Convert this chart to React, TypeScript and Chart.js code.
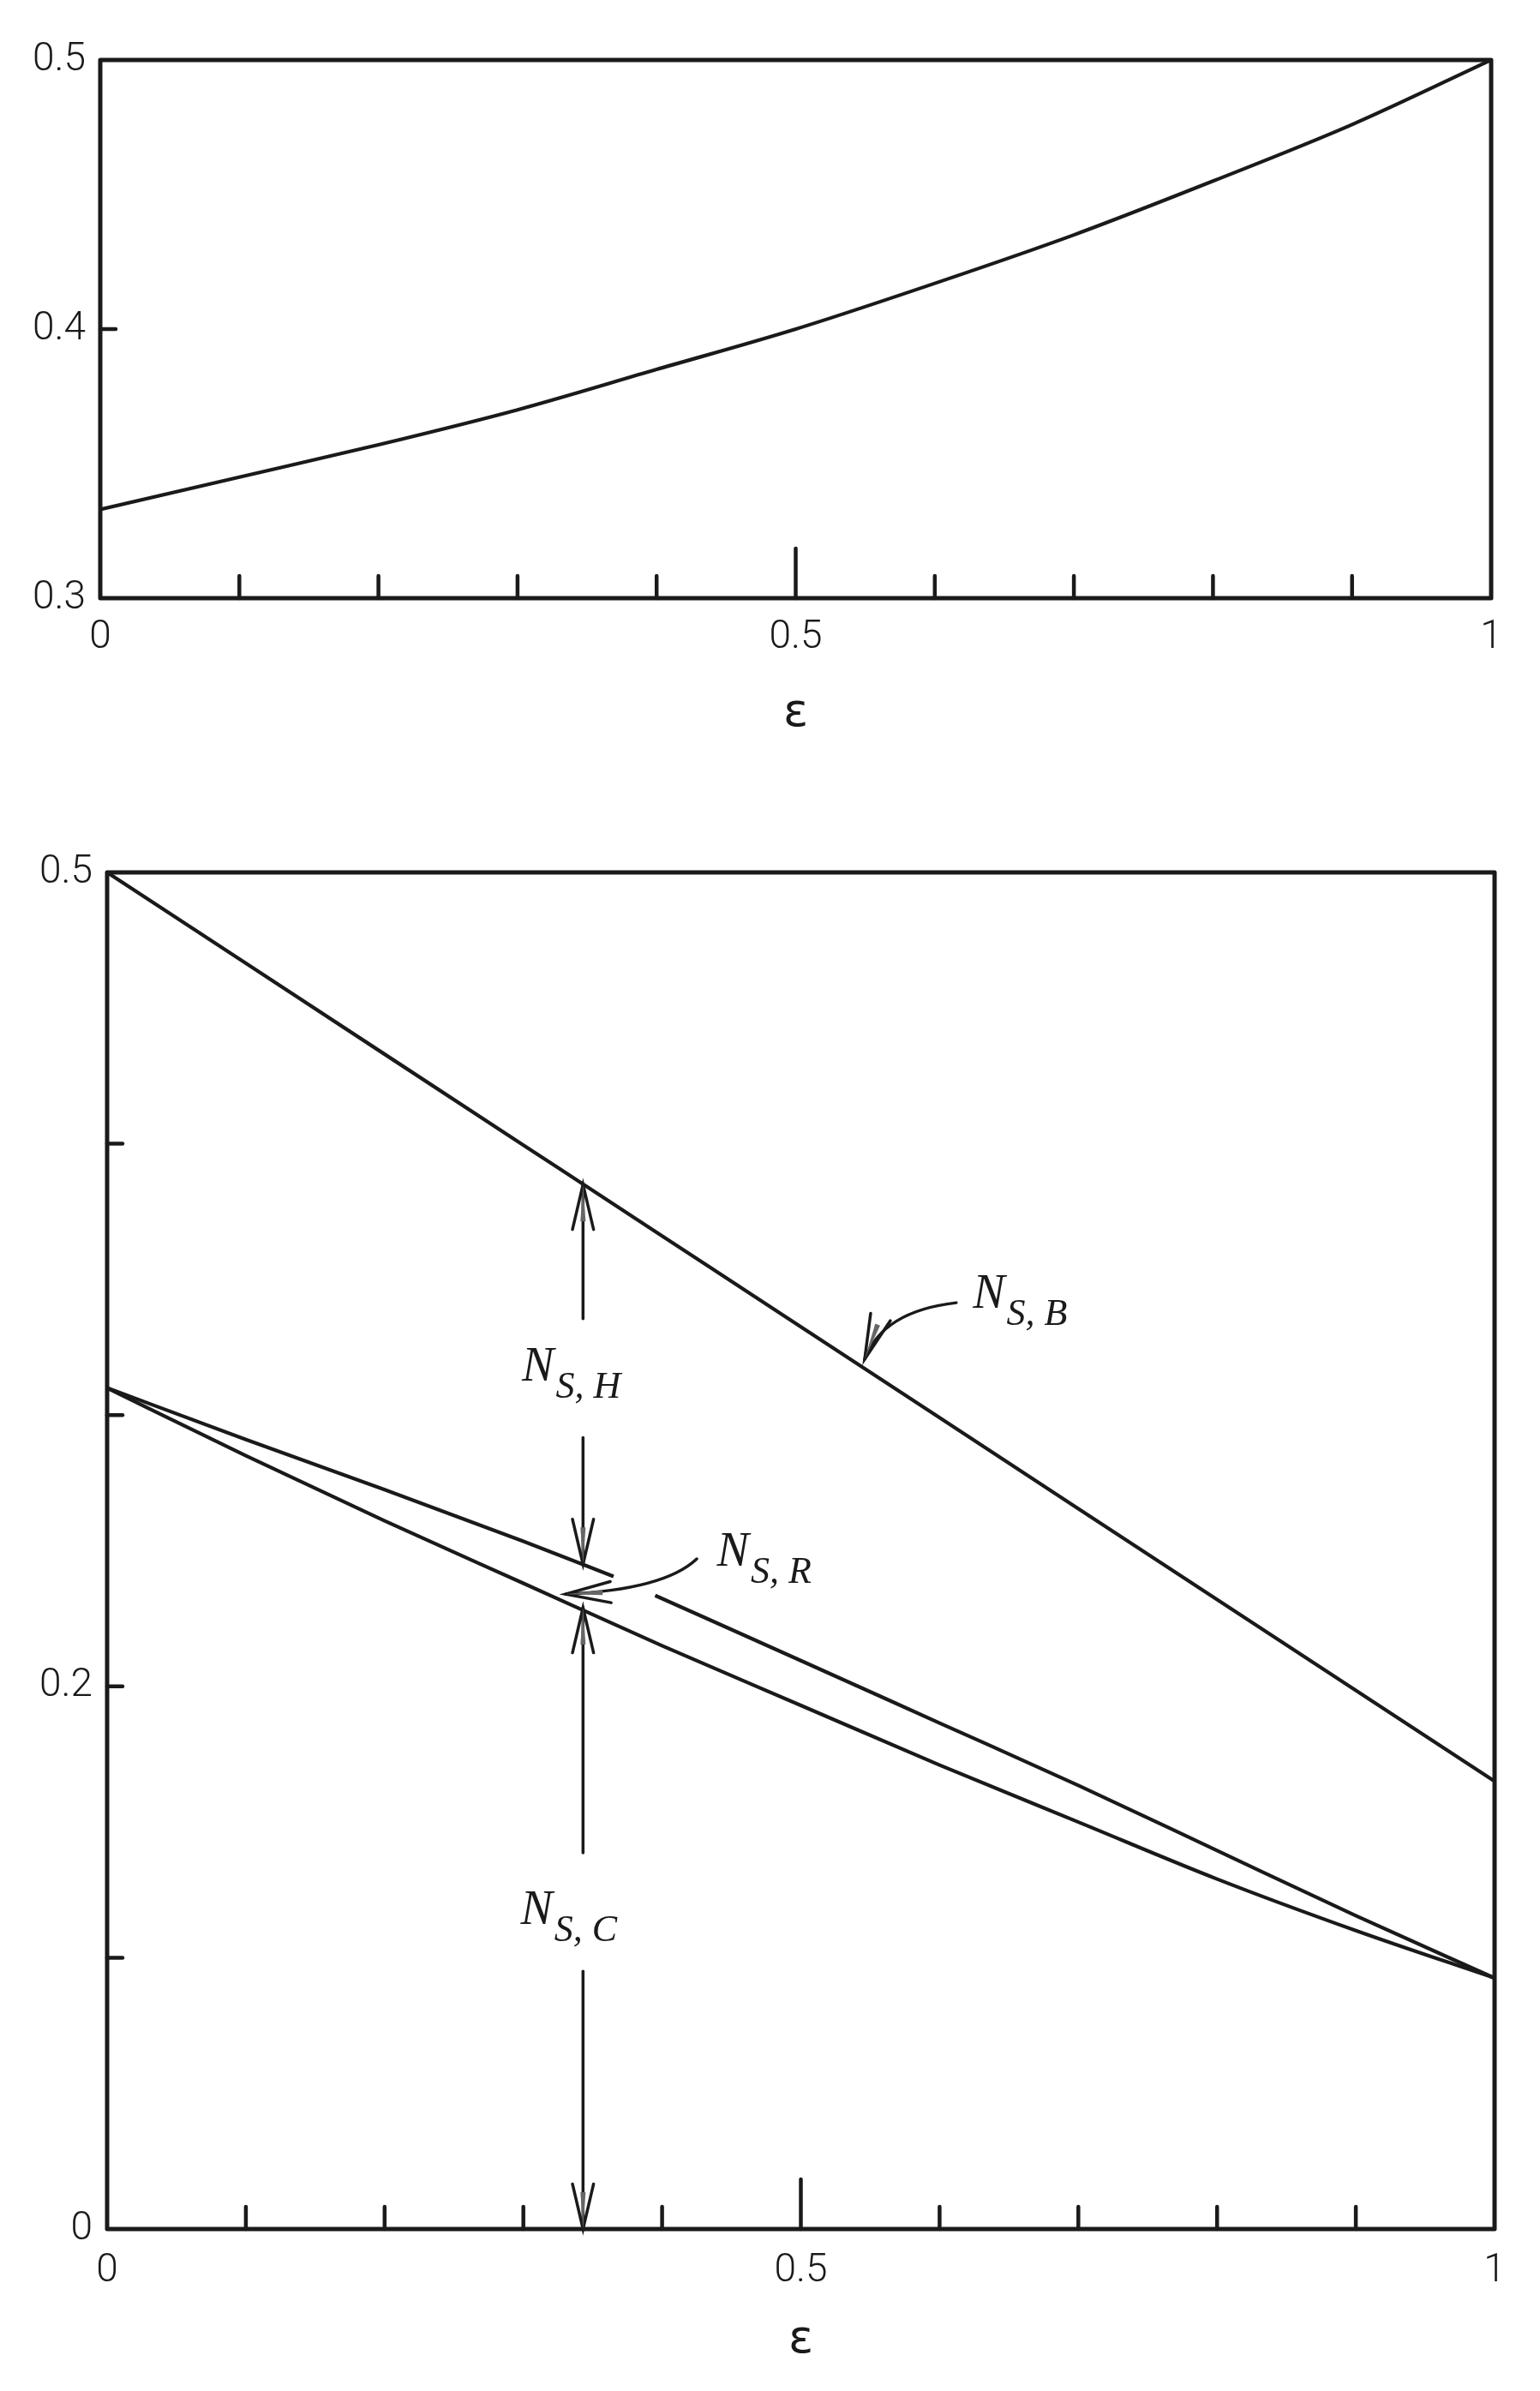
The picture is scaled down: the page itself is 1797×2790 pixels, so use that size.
import React, { useEffect, useRef } from 'react';
import { Chart, registerables } from 'chart.js';

Chart.register(...registerables);

// ---------- data ----------
const EPS = [0, 0.1, 0.2, 0.3, 0.4, 0.5, 0.6, 0.7, 0.8, 0.9, 1];

// upper panel
const TOP_CURVE = [0.333, 0.345, 0.357, 0.370, 0.385, 0.400, 0.417, 0.435, 0.455, 0.476, 0.500];
const TOP_Y_TICKS = [0.3, 0.4, 0.5];
const TOP_Y_LABELS = [0.3, 0.4, 0.5];

// lower panel
const NSB = [0.500, 0.4665, 0.433, 0.3995, 0.366, 0.3325, 0.299, 0.2655, 0.232, 0.1985, 0.165];
// upper boundary of the N_S,R band (interrupted where the N_S,R arrow passes)
const NSR_EPS = [0, 0.1, 0.2, 0.3, 0.365, 0.38, 0.395, 0.5, 0.6, 0.7, 0.8, 0.9, 1];
const NSR_TOP = [0.310, 0.291, 0.2725, 0.2535, 0.2405, null, 0.2335, 0.2095, 0.1865, 0.1635, 0.1395, 0.1155, 0.0925];
const NSC = [0.310, 0.285, 0.261, 0.238, 0.215, 0.193, 0.171, 0.150, 0.129, 0.110, 0.0925];
const BOT_Y_TICKS = [0.1, 0.2, 0.3, 0.4];
const BOT_Y_LABELS = [0, 0.2, 0.5];

const X_MINOR = [0.1, 0.2, 0.3, 0.4, 0.6, 0.7, 0.8, 0.9];
const X_MAJOR = [0.5];
const X_LABELS = [0, 0.5, 1];
const X_TITLE = 'ε';

// annotations of the lower panel (in data units)
const NOTE_TEXTS = [
  { main: 'N', sub: 'S, B', x: 0.624, y: 0.3395 },
  { main: 'N', sub: 'S, H', x: 0.299, y: 0.3127 },
  { main: 'N', sub: 'S, R', x: 0.4395, y: 0.2445 },
  { main: 'N', sub: 'S, C', x: 0.298, y: 0.1125 },
];
const NOTE_VARROWS = [
  { x: 0.343, from: 0.3355, to: 0.385 },
  { x: 0.343, from: 0.2917, to: 0.245 },
  { x: 0.343, from: 0.1387, to: 0.229 },
  { x: 0.343, from: 0.095, to: 0.0 },
];
const NOTE_CARROWS = [
  { p0: [0.612, 0.3414], c: [0.559, 0.3383], p2: [0.546, 0.3206] },
  { p0: [0.425, 0.247], c: [0.4015, 0.2356], p2: [0.3305, 0.234] },
];

// ---------- styling ----------
const INK = '#1a1a1a';
const NUM_FONT = { family: 'Roboto, "Liberation Sans", sans-serif', size: 46, weight: 300 as any };
const TITLE_FONT = { family: '"DejaVu Sans", sans-serif', size: 54, weight: 'normal' as any };

const near = (a: number, list: number[]) => list.some((v) => Math.abs(v - a) < 1e-6);

function framePlugin(yMarks: number[]) {
  return {
    id: 'frameTicks',
    afterDatasetsDraw(chart: any) {
      const { ctx, chartArea: a, scales } = chart;
      const xs = scales.x;
      const ys = scales.y;
      ctx.save();
      ctx.strokeStyle = INK;
      ctx.lineWidth = 5;
      ctx.lineJoin = 'round';
      ctx.strokeRect(a.left, a.top, a.right - a.left, a.bottom - a.top);
      ctx.lineCap = 'round';
      ctx.lineWidth = 4.5;
      for (const v of X_MINOR) {
        const px = xs.getPixelForValue(v);
        ctx.beginPath();
        ctx.moveTo(px, a.bottom);
        ctx.lineTo(px, a.bottom - 26);
        ctx.stroke();
      }
      for (const v of X_MAJOR) {
        const px = xs.getPixelForValue(v);
        ctx.beginPath();
        ctx.moveTo(px, a.bottom);
        ctx.lineTo(px, a.bottom - 58);
        ctx.stroke();
      }
      for (const v of yMarks) {
        const py = ys.getPixelForValue(v);
        if (py <= a.top + 1 || py >= a.bottom - 1) continue;
        ctx.beginPath();
        ctx.moveTo(a.left, py);
        ctx.lineTo(a.left + 18, py);
        ctx.stroke();
      }
      ctx.restore();
    },
  };
}

function arrowHead(ctx: CanvasRenderingContext2D, x: number, y: number, ang: number) {
  const L = 54;
  const w = 0.23;
  ctx.beginPath();
  ctx.moveTo(x - L * Math.cos(ang - w), y - L * Math.sin(ang - w));
  ctx.lineTo(x, y);
  ctx.lineTo(x - L * Math.cos(ang + w), y - L * Math.sin(ang + w));
  ctx.stroke();
  ctx.save();
  ctx.fillStyle = '#666';
  ctx.beginPath();
  ctx.moveTo(x - L * 0.8 * Math.cos(ang - 0.07), y - L * 0.8 * Math.sin(ang - 0.07));
  ctx.lineTo(x, y);
  ctx.lineTo(x - L * 0.8 * Math.cos(ang + 0.07), y - L * 0.8 * Math.sin(ang + 0.07));
  ctx.closePath();
  ctx.fill();
  ctx.restore();
}

const notesPlugin = {
  id: 'notes',
  afterDatasetsDraw(chart: any) {
    const { ctx, scales } = chart;
    const X = (v: number) => scales.x.getPixelForValue(v);
    const Y = (v: number) => scales.y.getPixelForValue(v);
    ctx.save();
    ctx.strokeStyle = INK;
    ctx.fillStyle = INK;
    ctx.lineWidth = 3.5;
    ctx.lineCap = 'round';
    for (const a of NOTE_VARROWS) {
      const x = X(a.x);
      const y0 = Y(a.from);
      const y1 = Y(a.to);
      ctx.beginPath();
      ctx.moveTo(x, y0);
      ctx.lineTo(x, y1);
      ctx.stroke();
      arrowHead(ctx, x, y1, y1 < y0 ? -Math.PI / 2 : Math.PI / 2);
    }
    for (const a of NOTE_CARROWS) {
      const p0 = [X(a.p0[0]), Y(a.p0[1])];
      const c = [X(a.c[0]), Y(a.c[1])];
      const p2 = [X(a.p2[0]), Y(a.p2[1])];
      ctx.beginPath();
      ctx.moveTo(p0[0], p0[1]);
      ctx.quadraticCurveTo(c[0], c[1], p2[0], p2[1]);
      ctx.stroke();
      arrowHead(ctx, p2[0], p2[1], Math.atan2(p2[1] - c[1], p2[0] - c[0]));
    }
    ctx.textBaseline = 'alphabetic';
    ctx.textAlign = 'left';
    for (const t of NOTE_TEXTS) {
      const x = X(t.x);
      const y = Y(t.y);
      ctx.font = 'italic 56px "Liberation Serif", serif';
      ctx.fillText(t.main, x, y);
      const w = ctx.measureText(t.main).width;
      ctx.font = 'italic 44px "Liberation Serif", serif';
      ctx.fillText(t.sub, x + w + 2, y + 20);
    }
    ctx.restore();
  },
};

function lineDs(xs: number[], ys: (number | null)[]) {
  return {
    data: xs.map((x, i) => ({ x, y: ys[i] })),
    borderColor: INK,
    borderWidth: 4.2,
    pointRadius: 0,
    fill: false,
    spanGaps: false,
    cubicInterpolationMode: 'monotone' as const,
  };
}

function buildConfig(p: {
  canvasH: number;
  left: number;
  right: number;
  top: number;
  bottom: number;
  yMin: number;
  yMax: number;
  yLabels: number[];
  yMarks: number[];
  tickPad: number;
  titleCenter: number;
  datasets: any[];
  plugins: any[];
}) {
  const W = 1797;
  const titleLH = TITLE_FONT.size * 1.2;
  const xAxisH = p.titleCenter + titleLH / 2 - p.bottom;
  return {
    type: 'line' as const,
    data: { datasets: p.datasets },
    options: {
      responsive: false,
      animation: false as const,
      events: [],
      layout: {
        padding: {
          left: 0,
          right: W - p.right,
          top: p.top,
          bottom: p.canvasH - p.bottom - xAxisH,
        },
      },
      plugins: { legend: { display: false }, tooltip: { enabled: false }, title: { display: false } },
      scales: {
        x: {
          type: 'linear' as const,
          min: 0,
          max: 1,
          grid: { display: false, drawTicks: false },
          border: { display: false },
          ticks: {
            stepSize: 0.1,
            autoSkip: false,
            maxRotation: 0,
            padding: p.tickPad,
            color: INK,
            font: NUM_FONT,
            callback: (v: any) => {
              const n = Math.round(Number(v) * 10) / 10;
              return near(n, X_LABELS) ? String(n) : '';
            },
          },
          title: {
            display: true,
            text: X_TITLE,
            color: INK,
            font: TITLE_FONT,
            padding: { top: 0, bottom: 0 },
          },
          afterFit: (s: any) => {
            s.height = xAxisH;
            s.paddingLeft = 0;
            s.paddingRight = 0;
          },
        },
        y: {
          type: 'linear' as const,
          min: p.yMin,
          max: p.yMax,
          grid: { display: false, drawTicks: false },
          border: { display: false },
          ticks: {
            stepSize: 0.1,
            autoSkip: false,
            padding: 17,
            color: INK,
            font: NUM_FONT,
            callback: (v: any) => {
              const n = Math.round(Number(v) * 10) / 10;
              return near(n, p.yLabels) ? String(n) : '';
            },
          },
          afterFit: (s: any) => {
            s.width = p.left;
            s.paddingTop = 0;
            s.paddingBottom = 0;
          },
        },
      },
    },
    plugins: p.plugins,
  };
}

const TOP_H = 900;
const BOT_TOP = 940;
const BOT_H = 1850;

export default function App() {
  const topRef = useRef<HTMLCanvasElement>(null);
  const botRef = useRef<HTMLCanvasElement>(null);

  useEffect(() => {
    const c1 = new Chart(
      topRef.current as HTMLCanvasElement,
      buildConfig({
        canvasH: TOP_H,
        left: 117,
        right: 1740,
        top: 70,
        bottom: 698,
        yMin: 0.3,
        yMax: 0.5,
        yLabels: TOP_Y_LABELS,
        yMarks: TOP_Y_TICKS,
        tickPad: 19,
        titleCenter: 833,
        datasets: [lineDs(EPS, TOP_CURVE)],
        plugins: [framePlugin(TOP_Y_TICKS)],
      }) as any
    );
    const c2 = new Chart(
      botRef.current as HTMLCanvasElement,
      buildConfig({
        canvasH: BOT_H,
        left: 125,
        right: 1744,
        top: 1018 - BOT_TOP,
        bottom: 2601 - BOT_TOP,
        yMin: 0,
        yMax: 0.5,
        yLabels: BOT_Y_LABELS,
        yMarks: BOT_Y_TICKS,
        tickPad: 22,
        titleCenter: 2731 - BOT_TOP,
        datasets: [lineDs(EPS, NSB), lineDs(NSR_EPS, NSR_TOP), lineDs(EPS, NSC)],
        plugins: [framePlugin(BOT_Y_TICKS), notesPlugin],
      }) as any
    );
    return () => {
      c1.destroy();
      c2.destroy();
    };
  }, []);

  return (
    <div style={{ position: 'absolute', left: 0, top: 0, width: 1797, height: 2790, background: '#fff' }}>
      <canvas ref={topRef} width={1797} height={TOP_H} style={{ position: 'absolute', left: 0, top: 0 }} />
      <canvas ref={botRef} width={1797} height={BOT_H} style={{ position: 'absolute', left: 0, top: BOT_TOP }} />
    </div>
  );
}
